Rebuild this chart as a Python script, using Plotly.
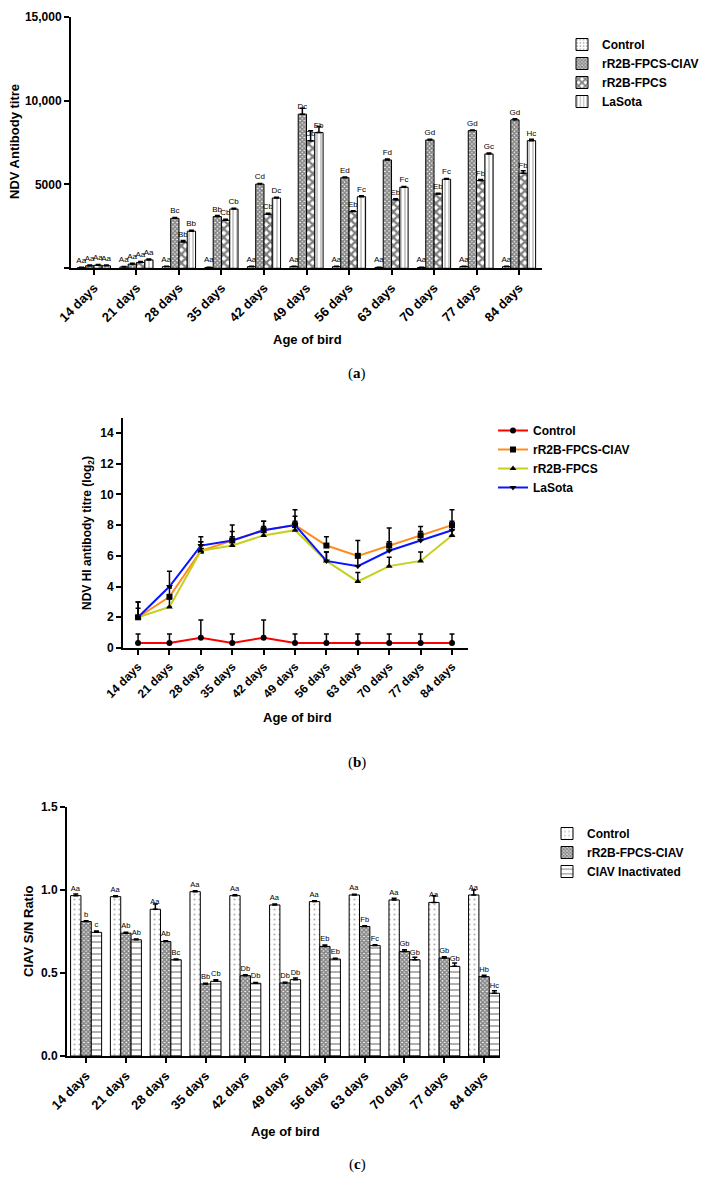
import plotly.graph_objects as go

# ---------------- data ----------------
days = ["14 days", "21 days", "28 days", "35 days", "42 days", "49 days",
        "56 days", "63 days", "70 days", "77 days", "84 days"]

# (a) NDV antibody titre (ELISA)
ndv_control = [40, 80, 100, 50, 100, 100, 100, 50, 50, 100, 100]
ndv_control_err = [20, 20, 20, 20, 20, 20, 20, 20, 20, 20, 20]
ndv_ciav = [150, 250, 2980, 3085, 5020, 9190, 5400, 6460, 7650, 8210, 8850]
ndv_ciav_err = [40, 50, 50, 60, 40, 350, 40, 50, 40, 40, 60]
ndv_fpcs = [180, 350, 1570, 2860, 3225, 7600, 3380, 4080, 4430, 5230, 5670]
ndv_fpcs_err = [40, 60, 80, 60, 60, 600, 50, 60, 40, 60, 150]
ndv_lasota = [150, 500, 2215, 3530, 4190, 8090, 4270, 4830, 5310, 6820, 7610]
ndv_lasota_err = [40, 60, 60, 50, 50, 370, 50, 50, 40, 60, 80]
ndv_control_lbl = ["Aa"] * 11
ndv_ciav_lbl = ["Aa", "Aa", "Bc", "Bb", "Cd", "Dc", "Ed", "Fd", "Gd", "Gd", "Gd"]
ndv_fpcs_lbl = ["Aa", "Aa", "Bb", "Cb", "Cb", "Db", "Eb", "Eb", "Eb", "Fb", "Fb"]
ndv_lasota_lbl = ["Aa", "Aa", "Bb", "Cb", "Dc", "Eb", "Fc", "Fc", "Fc", "Gc", "Hc"]

# (b) NDV HI antibody titre (log2)
hi_control = [0.33, 0.33, 0.67, 0.33, 0.67, 0.33, 0.33, 0.33, 0.33, 0.33, 0.33]
hi_control_err = [0.58, 0.58, 1.15, 0.58, 1.15, 0.58, 0.58, 0.58, 0.58, 0.58, 0.58]
hi_ciav = [2.0, 3.33, 6.33, 7.0, 7.67, 8.0, 6.67, 6.0, 6.67, 7.33, 8.0]
hi_ciav_err = [1.0, 0.58, 0.58, 1.0, 0.58, 1.0, 0.58, 1.0, 1.15, 0.58, 1.0]
hi_fpcs = [2.0, 2.67, 6.33, 6.67, 7.33, 7.67, 5.67, 4.33, 5.33, 5.67, 7.33]
hi_fpcs_err = [0.58, 0.58, 0.58, 0.58, 0.58, 0.58, 0.58, 0.58, 0.58, 0.58, 0.58]
hi_lasota = [2.0, 4.0, 6.67, 7.0, 7.67, 8.0, 5.67, 5.33, 6.33, 7.0, 7.67]
hi_lasota_err = [1.0, 1.0, 0.58, 0.58, 0.58, 0.58, 0.58, 0.58, 0.58, 0.58, 0.58]

# (c) CIAV S/N ratio
sn_control = [0.966, 0.96, 0.884, 0.99, 0.966, 0.91, 0.93, 0.97, 0.94, 0.925, 0.97]
sn_control_err = [0.01, 0.005, 0.032, 0.005, 0.005, 0.005, 0.005, 0.005, 0.01, 0.04, 0.03]
sn_ciav = [0.81, 0.74, 0.69, 0.434, 0.484, 0.44, 0.66, 0.78, 0.63, 0.59, 0.478]
sn_ciav_err = [0.005, 0.005, 0.005, 0.005, 0.005, 0.005, 0.008, 0.005, 0.01, 0.008, 0.008]
sn_inact = [0.745, 0.70, 0.58, 0.45, 0.438, 0.46, 0.584, 0.665, 0.58, 0.54, 0.378]
sn_inact_err = [0.008, 0.005, 0.005, 0.01, 0.005, 0.01, 0.005, 0.005, 0.015, 0.02, 0.015]
sn_control_lbl = ["Aa"] * 11
sn_ciav_lbl = ["b", "Ab", "Ab", "Bb", "Db", "Db", "Eb", "Fb", "Gb", "Gb", "Hb"]
sn_inact_lbl = ["c", "Ab", "Bc", "Cb", "Db", "Db", "Eb", "Fc", "Gb", "Gb", "Hc"]

# ---------------- layout helpers ----------------
# The page body has an 8 px margin, so the figure is drawn 8 px in from the
# window's top-left corner; size it to fill the rest of the 715x1185 window.
OFF = 8
W, H = 715 - OFF, 1185 - OFF
FONT = "Liberation Sans, Arial, sans-serif"


def fx(x):
    return (x - OFF) / W


def fy(y):
    return 1 - (y - OFF) / H


def err(arr):
    return dict(type="data", array=arr, arrayminus=[0] * len(arr), symmetric=False,
                color="black", thickness=1.5, width=2.5)


fig = go.Figure()

pat_dots = dict(shape=".", size=4, solidity=0.22, fgcolor="#555555", bgcolor="white")
pat_fine = dict(shape="x", size=3, solidity=0.8, fgcolor="#111111", bgcolor="white")
pat_check = dict(shape="x", size=6, solidity=0.6, fgcolor="black", bgcolor="white")
pat_vert = dict(shape="|", size=4, solidity=0.25, fgcolor="#333333", bgcolor="white")
pat_horz = dict(shape="-", size=6, solidity=0.22, fgcolor="#111111", bgcolor="white")
pat_dots_c = dict(shape=".", size=5, solidity=0.15, fgcolor="#666666", bgcolor="white")

lblfont_a = dict(size=8, family=FONT, color="black")
lblfont_c = dict(size=7.5, family=FONT, color="black")

# ---- panel (a)
for name, vals, errs, lbls, pat in [
    ("Control", ndv_control, ndv_control_err, ndv_control_lbl, pat_dots),
    ("rR2B-FPCS-CIAV", ndv_ciav, ndv_ciav_err, ndv_ciav_lbl, pat_fine),
    ("rR2B-FPCS", ndv_fpcs, ndv_fpcs_err, ndv_fpcs_lbl, pat_check),
    ("LaSota", ndv_lasota, ndv_lasota_err, ndv_lasota_lbl, pat_vert),
]:
    fig.add_trace(go.Bar(
        x=days, y=vals, name=name, text=lbls, textposition="outside",
        constraintext="none", cliponaxis=False,
        textfont=lblfont_a, outsidetextfont=lblfont_a,
        marker=dict(color="white", line=dict(color="black", width=1), pattern=pat),
        error_y=err(errs), xaxis="x", yaxis="y", legend="legend"))

# ---- panel (b)
for name, vals, errs, col, sym in [
    ("Control", hi_control, hi_control_err, "#ff0000", "circle"),
    ("rR2B-FPCS-CIAV", hi_ciav, hi_ciav_err, "#ff8c1a", "square"),
    ("rR2B-FPCS", hi_fpcs, hi_fpcs_err, "#c6cf1c", "triangle-up"),
    ("LaSota", hi_lasota, hi_lasota_err, "#0a14ff", "triangle-down"),
]:
    fig.add_trace(go.Scatter(
        x=days, y=vals, name=name, mode="lines+markers",
        line=dict(color=col, width=2),
        marker=dict(color="black", symbol=sym, size=6),
        error_y=err(errs), cliponaxis=False,
        xaxis="x2", yaxis="y2", legend="legend2"))

# ---- panel (c)
for name, vals, errs, lbls, pat in [
    ("Control", sn_control, sn_control_err, sn_control_lbl, pat_dots_c),
    ("rR2B-FPCS-CIAV", sn_ciav, sn_ciav_err, sn_ciav_lbl, pat_fine),
    ("CIAV Inactivated", sn_inact, sn_inact_err, sn_inact_lbl, pat_horz),
]:
    fig.add_trace(go.Bar(
        x=days, y=vals, name=name, text=lbls, textposition="outside",
        constraintext="none", cliponaxis=False,
        textfont=lblfont_c, outsidetextfont=lblfont_c,
        marker=dict(color="white", line=dict(color="black", width=1), pattern=pat),
        error_y=err(errs), xaxis="x3", yaxis="y3", legend="legend3"))

axis_common = dict(showline=True, linecolor="black", linewidth=2, ticks="outside",
                   ticklen=5, tickwidth=2, tickcolor="black", showgrid=False,
                   zeroline=False, automargin=False,
                   tickfont=dict(family=FONT, size=12, color="black", weight="bold"))
xcommon = dict(axis_common, type="category", tickangle=-45,
               tickfont=dict(family=FONT, size=13, color="black", weight="bold"))

legend_common = dict(xanchor="left", yanchor="top", bgcolor="rgba(0,0,0,0)",
                     font=dict(family=FONT, size=12, color="black", weight="bold"),
                     tracegroupgap=0, itemclick=False)

fig.update_layout(
    width=W, height=H, margin=dict(l=0, r=0, t=0, b=0, autoexpand=False),
    paper_bgcolor="white", plot_bgcolor="white",
    barmode="group", bargap=0.22, bargroupgap=0,
    font=dict(family=FONT, color="black"),
    xaxis=dict(xcommon, domain=[fx(71), fx(542)], anchor="y", range=[-0.54, 10.54]),
    yaxis=dict(axis_common, domain=[fy(268.3), fy(16.7)], anchor="x", range=[0, 15000],
               tickvals=[0, 5000, 10000, 15000], ticktext=["", "5000", "10,000", "15,000"]),
    xaxis2=dict(xcommon, domain=[fx(123), fx(468)], anchor="y2", range=[-0.48, 10.51],
                tickfont=dict(family=FONT, size=12, color="black", weight="bold")),
    yaxis2=dict(axis_common, domain=[fy(648), fy(417.6)], anchor="x2", range=[0, 15],
                tickvals=[0, 2, 4, 6, 8, 10, 12, 14]),
    xaxis3=dict(xcommon, domain=[fx(67), fx(500)], anchor="y3", range=[-0.48, 10.4]),
    yaxis3=dict(axis_common, domain=[fy(1056), fy(807)], anchor="x3", range=[0, 1.5],
                tickvals=[0, 0.5, 1.0, 1.5], ticktext=["0.0", "0.5", "1.0", "1.5"]),
    legend=dict(legend_common, x=fx(562), y=fy(30)),
    legend2=dict(legend_common, x=fx(493), y=fy(416)),
    legend3=dict(legend_common, x=fx(547), y=fy(819)),
    showlegend=True,
)

bold13 = dict(family=FONT, size=13, color="black", weight="bold")
serif = dict(family="Liberation Serif, Times New Roman, serif", size=15, color="black")
ann = [
    (15, 142, "NDV Antibody titre", bold13, -90),
    (307, 339, "Age of bird", bold13, 0),
    (357, 373, "(<b>a</b>)", serif, 0),
    (88, 533, "NDV HI antibody titre (log<sub>2</sub>)",
     dict(family=FONT, size=12, color="black", weight="bold"), -90),
    (297, 717, "Age of bird", bold13, 0),
    (357, 762, "(<b>b</b>)", serif, 0),
    (29, 931, "CIAV S/N Ratio", bold13, -90),
    (285, 1131, "Age of bird", bold13, 0),
    (357, 1164, "(<b>c</b>)", serif, 0),
]
for x, y, t, f, ang in ann:
    fig.add_annotation(x=fx(x), y=fy(y), xref="paper", yref="paper", text=t,
                       showarrow=False, font=f, textangle=ang,
                       xanchor="center", yanchor="middle")

fig.write_html("out.html")
